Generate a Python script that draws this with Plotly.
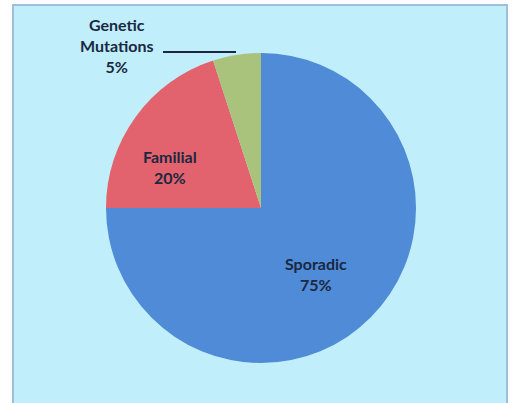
import plotly.graph_objects as go

labels = ["Sporadic", "Familial", "Genetic<br>Mutations"]
values = [75, 20, 5]
colors = ["#4f8bd6", "#e2636d", "#a9c37d"]

W, H = 512, 403

def px(x):
    return x / W

def py(y):
    return 1 - y / H

fig = go.Figure(go.Pie(
    labels=labels,
    values=values,
    sort=False,
    direction="clockwise",
    rotation=0,
    marker=dict(colors=colors, line=dict(width=0)),
    textinfo="none",
    hoverinfo="label+percent",
    showlegend=False,
    domain=dict(x=[px(106), px(416)], y=[py(363), py(53)]),
))

# label positions (pixel) for each slice
label_pos = [(316, 274), (170, 167), (117, 46)]
font = dict(family="Lato", size=16, color="#1a2842")
for lab, v, (x, y) in zip(labels, values, label_pos):
    fig.add_annotation(
        x=px(x), y=py(y), xref="paper", yref="paper",
        text=f"<b>{lab}<br>{v}%</b>", showarrow=False,
        font=font, align="center", xanchor="center", yanchor="middle",
    )

# leader line for small slice
fig.add_shape(type="line", xref="paper", yref="paper",
              x0=px(163), y0=py(52), x1=px(236), y1=py(52),
              line=dict(color="#1a2842", width=2))

# chart area background
fig.add_shape(type="rect", xref="paper", yref="paper", layer="below",
              x0=px(13), y0=py(410), x1=px(507), y1=py(5),
              fillcolor="#c0eefa", line=dict(color="#9fbfd6", width=2))

fig.update_layout(
    width=W, height=H,
    margin=dict(l=0, r=0, t=0, b=0),
    paper_bgcolor="white",
    plot_bgcolor="white",
)

fig.write_html("out.html")
